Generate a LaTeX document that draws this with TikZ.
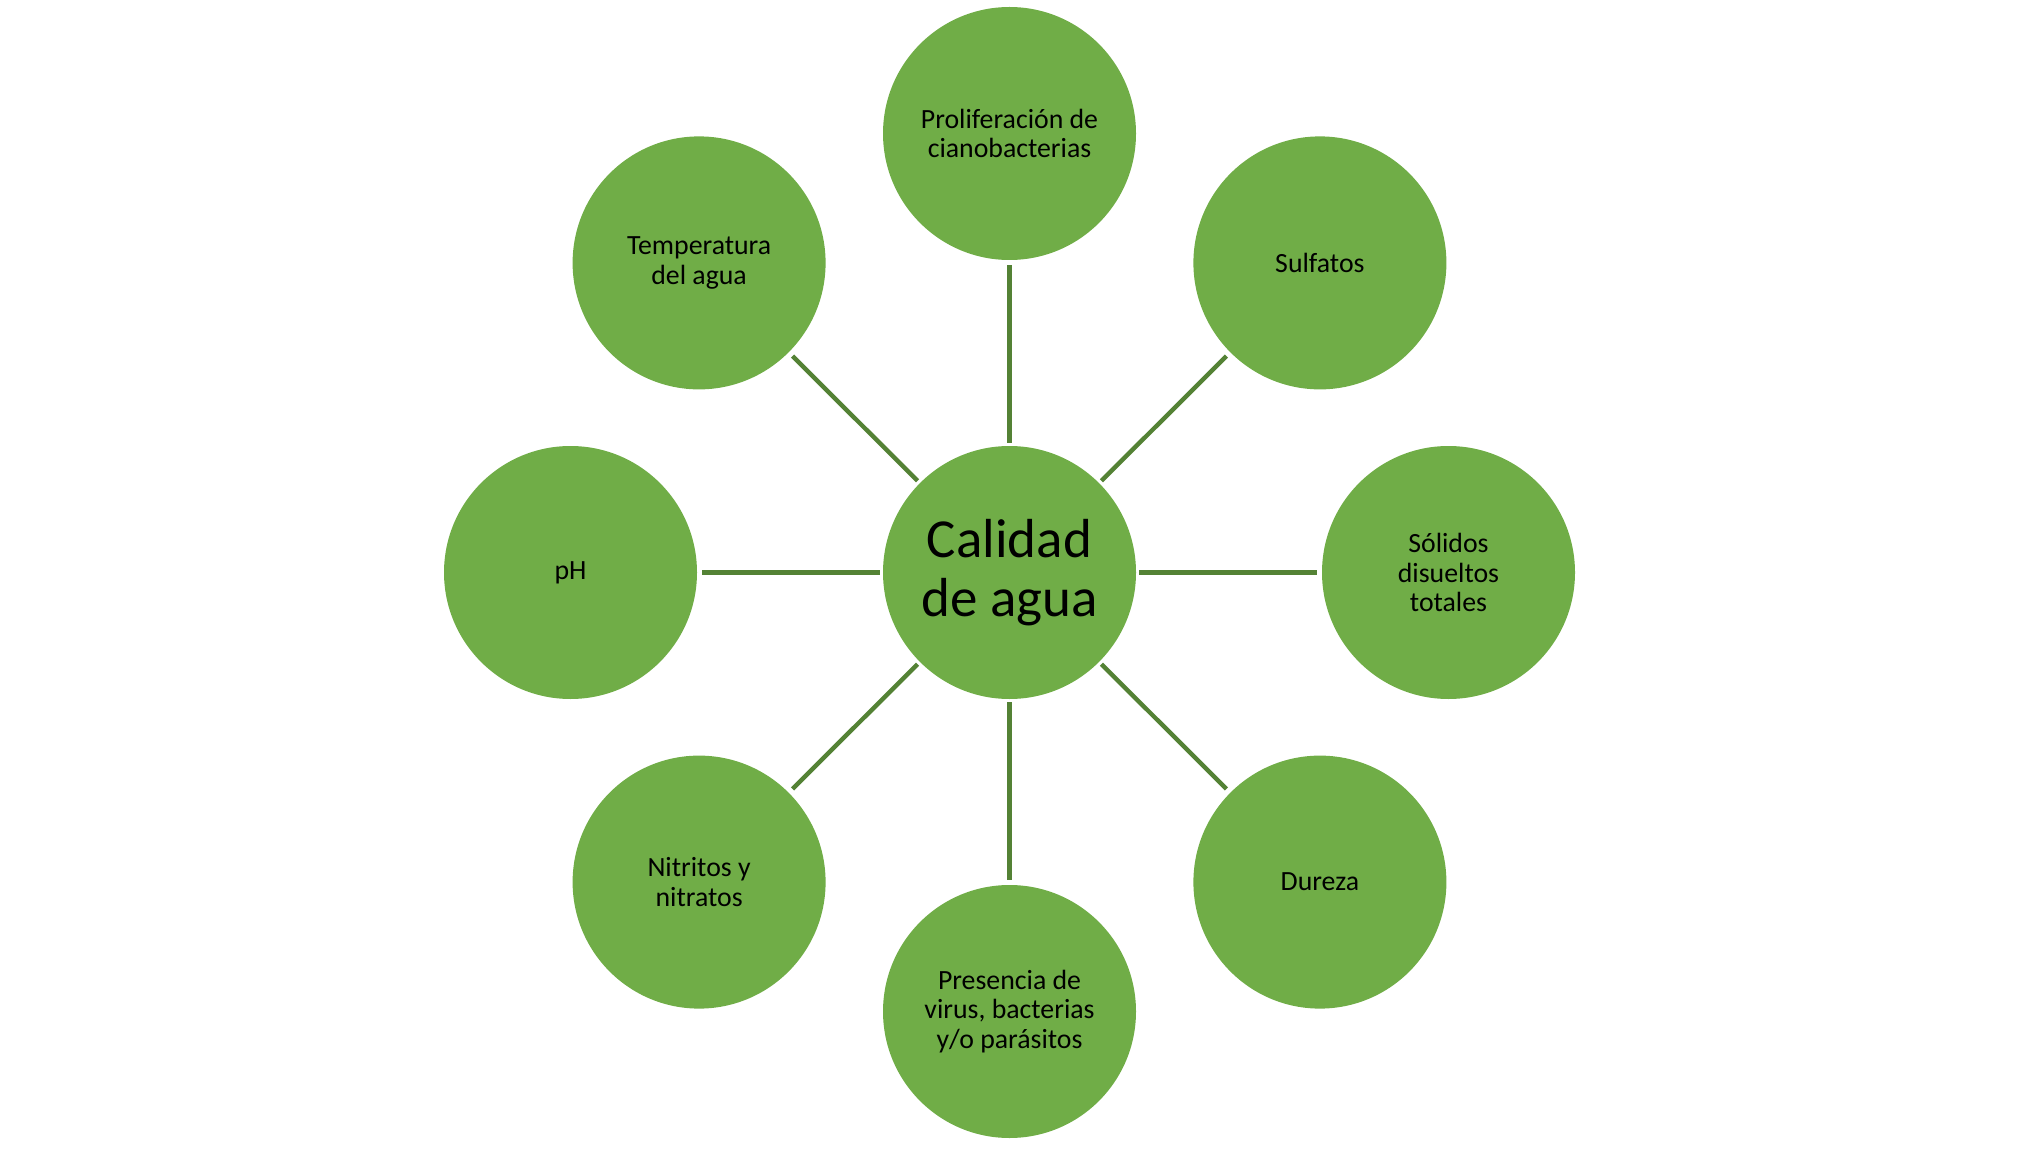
\documentclass[tikz,border=0pt]{standalone}
\usepackage{fontspec}
\setmainfont{Carlito}
\definecolor{bubble}{HTML}{70AD47}
\definecolor{spoke}{HTML}{548235}
\begin{document}
\begin{tikzpicture}[x=0.5pt,y=-0.5pt,
  bub/.style={circle,fill=bubble,draw=none,minimum size=126.5pt,inner sep=0pt,
    align=center,font=\fontsize{13.9}{14.9}\selectfont,text=black},
  hub/.style={bub,font=\fontsize{27.5}{29.5}\selectfont},
  link/.style={draw=spoke,line width=2.2pt,shorten <=1.5pt,shorten >=2.5pt}]
\useasboundingbox (0,0) rectangle (2025,1150);
\node[hub] (c) at (1009.5,572.5) {Calidad\\de agua};
\node[bub] (n1) at (1009.5,133.5) {Proliferación de\\cianobacterias};
\node[bub] (n2) at (1319.9,262.9) {Sulfatos};
\node[bub] (n3) at (1448.5,572.5) {Sólidos\\disueltos\\totales};
\node[bub] (n4) at (1319.9,882.1) {Dureza};
\node[bub] (n5) at (1009.5,1011.5) {Presencia de\\virus, bacterias\\y/o parásitos};
\node[bub] (n6) at (699.1,882.1) {Nitritos y\\nitratos};
\node[bub] (n7) at (570.5,572.5) {pH};
\node[bub] (n8) at (699.1,262.9) {Temperatura\\del agua};
\foreach \n in {n1,n2,n3,n4,n5,n6,n7,n8}
  \draw[link] (c) -- (\n);
\end{tikzpicture}
\end{document}
